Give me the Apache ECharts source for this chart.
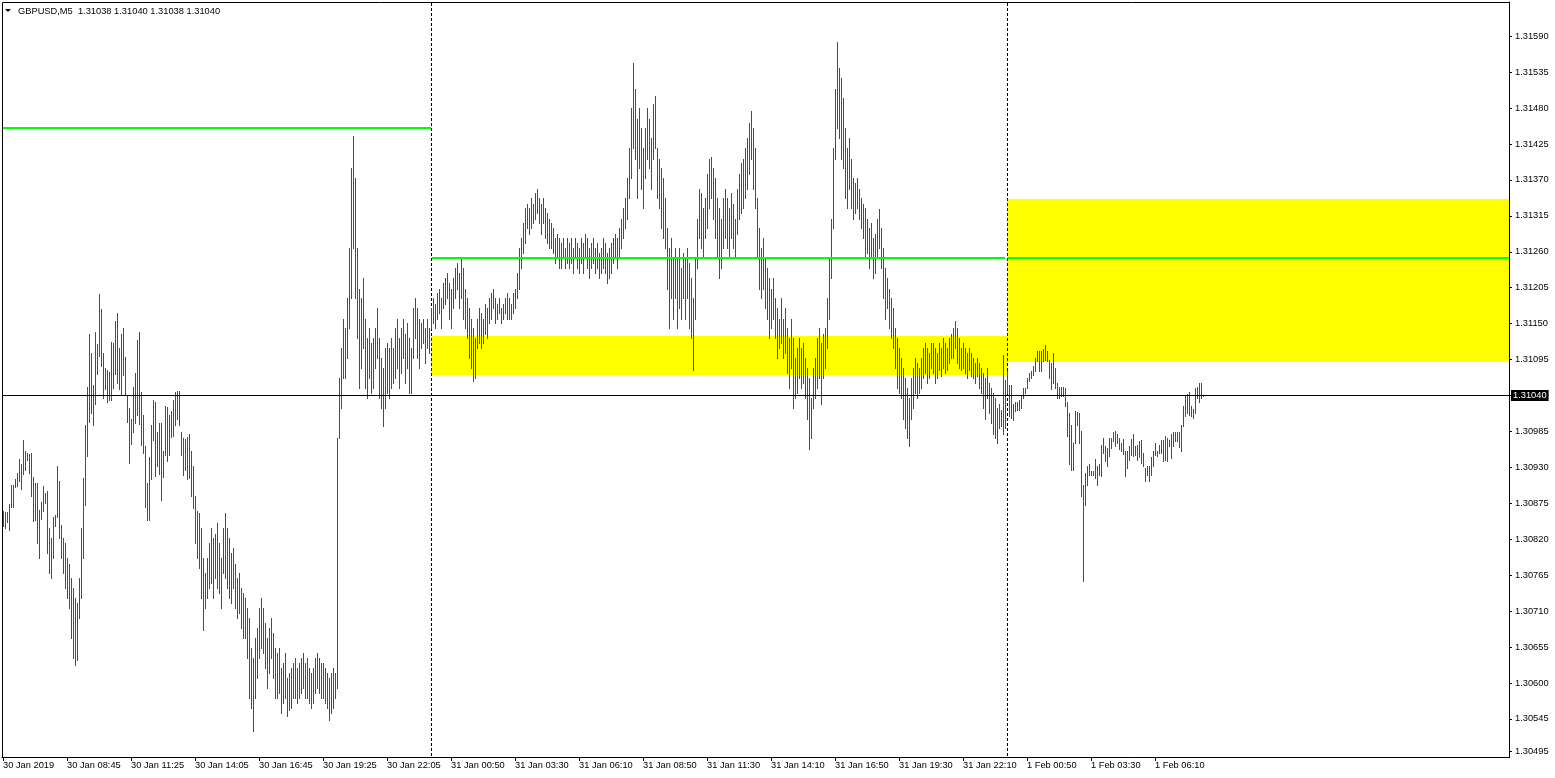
<!DOCTYPE html>
<html>
<head>
<meta charset="utf-8">
<script src="https://cdn.jsdelivr.net/npm/echarts@6/dist/echarts.min.js"></script>
<style>
html,body{margin:0;padding:0;background:#ffffff;overflow:hidden;}
#chart{width:1555px;height:778px;}
</style>
</head>
<body>
<div id="chart"></div>
<script>
// ---------------- DATA ----------------
const chartTitle = 'GBPUSD,M5  1.31038 1.31040 1.31038 1.31040';
const timeLabels = ['30 Jan 2019','30 Jan 08:45','30 Jan 11:25','30 Jan 14:05','30 Jan 16:45','30 Jan 19:25','30 Jan 22:05','31 Jan 00:50','31 Jan 03:30','31 Jan 06:10','31 Jan 08:50','31 Jan 11:30','31 Jan 14:10','31 Jan 16:50','31 Jan 19:30','31 Jan 22:10','1 Feb 00:50','1 Feb 03:30','1 Feb 06:10'];
const barsPerLabel = 32;
const viewBars = 753;
const priceTicks = [1.30495,1.30545,1.30600,1.30655,1.30710,1.30765,1.30820,1.30875,1.30930,1.30985,1.31040,1.31095,1.31150,1.31205,1.31260,1.31315,1.31370,1.31425,1.31480,1.31535,1.31590];
const axisMin = 1.304867;
const axisMax = 1.316423;
const bidPrice = 1.31040;
const daySeparatorBars = [214, 502];
// [fromBar, toBar, price]
const levelLines = [[0, 214, 1.31450], [214.5, 501, 1.31250], [502.5, 753, 1.31250]];
// [fromBar, toBar, topPrice, bottomPrice]
const zones = [[214, 502, 1.31130, 1.31070], [502, 753, 1.31340, 1.31090]];

// 30 Jan bars (high / low)
const day1High = [
1.30862,1.30861,1.30861,1.30873,1.30902,1.30903,1.30911,1.30920,1.30942,1.30934,
1.30971,1.30954,1.30951,1.30949,1.30952,1.30914,1.30905,1.30905,1.30864,1.30876,
1.30900,1.30890,1.30893,1.30836,1.30821,1.30854,1.30856,1.30931,1.30908,1.30841,
1.30821,1.30813,1.30790,1.30782,1.30760,1.30744,1.30729,1.30721,1.30760,1.30836,
1.30913,1.30994,1.31053,1.31134,1.31105,1.31055,1.31136,1.31118,1.31194,1.31171,
1.31104,1.31081,1.31079,1.31075,1.31121,1.31119,1.31153,1.31165,1.31112,1.31133,
1.31142,1.31098,1.31040,1.31020,1.31004,1.31053,1.31073,1.31124,1.31137,1.31044,
1.31010,1.30962,1.30905,1.30945,1.30994,1.31033,1.31030,1.30984,1.30997,1.30997,
1.30955,1.31023,1.31021,1.31009,1.31015,1.31032,1.31044,1.31046,1.31046,1.30984,
1.30974,1.30972,1.30975,1.30980,1.30954,1.30932,1.30885,1.30862,1.30859,1.30836,
1.30790,1.30767,1.30790,1.30813,1.30836,1.30821,1.30828,1.30844,1.30813,1.30790,
1.30836,1.30859,1.30836,1.30821,1.30798,1.30806,1.30782,1.30760,1.30767,1.30744,
1.30737,1.30729,1.30714,1.30698,1.30653,1.30637,1.30668,1.30683,1.30714,1.30729,
1.30714,1.30691,1.30668,1.30683,1.30698,1.30675,1.30653,1.30645,1.30653,1.30622,
1.30630,1.30645,1.30607,1.30614,1.30622,1.30630,1.30637,1.30622,1.30630,1.30637,
1.30645,1.30630,1.30637,1.30622,1.30614,1.30622,1.30637,1.30645,1.30637,1.30630,
1.30630,1.30622,1.30614,1.30607,1.30614,1.30622,1.30614,1.30974,1.31066,1.31112,
1.31157,1.31142,1.31188,1.31265,1.31387,1.31436,1.31372,1.31265,1.31203,1.31188,
1.31219,1.31157,1.31127,1.31142,1.31119,1.31127,1.31142,1.31173,1.31127,1.31096,
1.31081,1.31112,1.31119,1.31112,1.31127,1.31112,1.31142,1.31157,1.31127,1.31142,
1.31157,1.31134,1.31150,1.31127,1.31112,1.31173,1.31188,1.31173,1.31157,1.31150,
1.31157,1.31142,1.31157,1.31142];
const day1Low = [
1.30839,1.30836,1.30845,1.30833,1.30868,1.30868,1.30899,1.30900,1.30908,1.30896,
1.30919,1.30925,1.30940,1.30920,1.30885,1.30847,1.30848,1.30813,1.30790,1.30850,
1.30862,1.30874,1.30798,1.30767,1.30760,1.30790,1.30839,1.30854,1.30821,1.30790,
1.30767,1.30744,1.30729,1.30714,1.30668,1.30637,1.30626,1.30634,1.30698,1.30729,
1.30790,1.30871,1.30946,1.30998,1.31012,1.30994,1.31026,1.31072,1.31099,1.31084,
1.31036,1.31049,1.31030,1.31032,1.31032,1.31050,1.31072,1.31058,1.31049,1.31040,
1.31070,1.31040,1.30998,1.30936,1.30965,1.30984,1.30997,1.31010,1.30995,1.30963,
1.30951,1.30868,1.30848,1.30848,1.30911,1.30971,1.30916,1.30932,1.30919,1.30880,
1.30914,1.30948,1.30939,1.30948,1.30975,1.30978,1.30994,1.31004,1.30994,1.30948,
1.30917,1.30925,1.30911,1.30913,1.30885,1.30867,1.30813,1.30790,1.30775,1.30729,
1.30680,1.30714,1.30729,1.30744,1.30752,1.30729,1.30760,1.30744,1.30737,1.30714,
1.30767,1.30760,1.30744,1.30729,1.30721,1.30744,1.30714,1.30698,1.30706,1.30683,
1.30668,1.30668,1.30637,1.30576,1.30561,1.30525,1.30576,1.30607,1.30637,1.30653,
1.30645,1.30622,1.30591,1.30614,1.30637,1.30607,1.30576,1.30576,1.30584,1.30553,
1.30568,1.30576,1.30548,1.30558,1.30561,1.30576,1.30576,1.30568,1.30576,1.30584,
1.30591,1.30576,1.30576,1.30568,1.30561,1.30568,1.30584,1.30591,1.30584,1.30576,
1.30576,1.30568,1.30561,1.30542,1.30553,1.30561,1.30576,1.30591,1.30974,1.31020,
1.31066,1.31066,1.31096,1.31142,1.31188,1.31265,1.31188,1.31127,1.31050,1.31081,
1.31112,1.31050,1.31035,1.31066,1.31043,1.31050,1.31081,1.31096,1.31035,1.31020,
1.30992,1.31020,1.31043,1.31035,1.31050,1.31058,1.31066,1.31081,1.31050,1.31073,
1.31096,1.31058,1.31081,1.31043,1.31043,1.31096,1.31127,1.31096,1.31081,1.31112,
1.31119,1.31089,1.31112,1.31104];

// 31 Jan bars
const day2High = [
1.31173,1.31188,1.31180,1.31196,1.31203,1.31188,1.31211,1.31219,1.31226,1.31211,
1.31203,1.31219,1.31234,1.31242,1.31226,1.31249,1.31234,1.31203,1.31188,1.31173,
1.31157,1.31142,1.31127,1.31157,1.31173,1.31165,1.31157,1.31180,1.31173,1.31188,
1.31196,1.31203,1.31188,1.31180,1.31188,1.31173,1.31180,1.31188,1.31196,1.31188,
1.31180,1.31196,1.31203,1.31226,1.31265,1.31280,1.31303,1.31326,1.31333,1.31326,
1.31341,1.31333,1.31349,1.31356,1.31341,1.31333,1.31341,1.31326,1.31318,1.31310,
1.31303,1.31295,1.31280,1.31287,1.31280,1.31272,1.31280,1.31265,1.31280,1.31272,
1.31280,1.31265,1.31280,1.31272,1.31265,1.31280,1.31272,1.31287,1.31280,1.31265,
1.31272,1.31280,1.31265,1.31272,1.31257,1.31265,1.31280,1.31272,1.31257,1.31265,
1.31272,1.31280,1.31287,1.31280,1.31295,1.31310,1.31326,1.31341,1.31372,1.31418,
1.31479,1.31548,1.31509,1.31463,1.31479,1.31448,1.31418,1.31448,1.31479,1.31463,
1.31433,1.31486,1.31497,1.31418,1.31402,1.31387,1.31372,1.31341,1.31295,1.31265,
1.31280,1.31249,1.31265,1.31249,1.31265,1.31234,1.31257,1.31249,1.31265,1.31242,
1.31219,1.31188,1.31249,1.31310,1.31356,1.31349,1.31326,1.31341,1.31379,1.31402,
1.31405,1.31387,1.31372,1.31341,1.31326,1.31310,1.31341,1.31356,1.31341,1.31326,
1.31349,1.31333,1.31310,1.31356,1.31379,1.31395,1.31402,1.31418,1.31433,1.31456,
1.31474,1.31448,1.31418,1.31341,1.31295,1.31265,1.31280,1.31249,1.31234,1.31219,
1.31203,1.31219,1.31188,1.31173,1.31157,1.31188,1.31157,1.31173,1.31142,1.31127,
1.31157,1.31127,1.31096,1.31112,1.31127,1.31112,1.31119,1.31096,1.31081,1.31066,
1.31035,1.31081,1.31096,1.31127,1.31142,1.31119,1.31134,1.31142,1.31188,1.31249,
1.31310,1.31418,1.31509,1.31581,1.31540,1.31525,1.31494,1.31448,1.31418,1.31433,
1.31402,1.31372,1.31364,1.31372,1.31356,1.31341,1.31333,1.31326,1.31310,1.31295,
1.31303,1.31280,1.31287,1.31310,1.31324,1.31295,1.31265,1.31234,1.31219,1.31203,
1.31188,1.31173,1.31142,1.31127,1.31112,1.31096,1.31081,1.31066,1.31050,1.31035,
1.31066,1.31081,1.31096,1.31089,1.31081,1.31096,1.31112,1.31119,1.31112,1.31104,
1.31119,1.31119,1.31112,1.31104,1.31119,1.31112,1.31127,1.31119,1.31112,1.31127,
1.31134,1.31142,1.31154,1.31142,1.31127,1.31112,1.31119,1.31112,1.31104,1.31112,
1.31104,1.31096,1.31089,1.31096,1.31089,1.31081,1.31073,1.31066,1.31081,1.31058,
1.31050,1.31043,1.31035,1.31020,1.31027,1.31017,1.31102,1.31063];
const day2Low = [
1.31142,1.31150,1.31142,1.31157,1.31165,1.31142,1.31173,1.31180,1.31188,1.31157,
1.31142,1.31173,1.31188,1.31203,1.31173,1.31188,1.31157,1.31142,1.31127,1.31096,
1.31081,1.31061,1.31066,1.31112,1.31119,1.31112,1.31119,1.31134,1.31127,1.31150,
1.31157,1.31173,1.31150,1.31157,1.31165,1.31150,1.31157,1.31165,1.31157,1.31157,
1.31157,1.31165,1.31173,1.31188,1.31203,1.31234,1.31257,1.31272,1.31295,1.31287,
1.31295,1.31303,1.31310,1.31318,1.31303,1.31287,1.31303,1.31280,1.31272,1.31265,
1.31265,1.31257,1.31242,1.31249,1.31234,1.31234,1.31249,1.31234,1.31242,1.31234,
1.31242,1.31226,1.31249,1.31234,1.31226,1.31242,1.31226,1.31249,1.31234,1.31219,
1.31234,1.31242,1.31226,1.31234,1.31219,1.31226,1.31234,1.31226,1.31211,1.31219,
1.31226,1.31242,1.31249,1.31234,1.31249,1.31265,1.31280,1.31295,1.31310,1.31341,
1.31372,1.31418,1.31402,1.31341,1.31387,1.31356,1.31326,1.31372,1.31402,1.31387,
1.31356,1.31402,1.31418,1.31341,1.31326,1.31295,1.31280,1.31265,1.31203,1.31142,
1.31188,1.31157,1.31188,1.31142,1.31173,1.31157,1.31188,1.31157,1.31188,1.31142,
1.31127,1.31078,1.31157,1.31234,1.31280,1.31265,1.31249,1.31280,1.31295,1.31326,
1.31341,1.31310,1.31280,1.31249,1.31219,1.31234,1.31265,1.31280,1.31265,1.31249,
1.31280,1.31265,1.31249,1.31287,1.31310,1.31318,1.31326,1.31341,1.31356,1.31379,
1.31402,1.31356,1.31326,1.31249,1.31203,1.31188,1.31203,1.31173,1.31157,1.31127,
1.31142,1.31157,1.31127,1.31096,1.31112,1.31119,1.31096,1.31104,1.31073,1.31050,
1.31081,1.31020,1.31035,1.31043,1.31066,1.31050,1.31058,1.31035,1.31004,1.30957,
1.30974,1.31020,1.31035,1.31050,1.31066,1.31027,1.31066,1.31081,1.31112,1.31157,
1.31219,1.31295,1.31402,1.31448,1.31433,1.31402,1.31387,1.31341,1.31326,1.31356,
1.31326,1.31310,1.31318,1.31326,1.31310,1.31295,1.31280,1.31249,1.31257,1.31234,
1.31249,1.31219,1.31226,1.31249,1.31265,1.31234,1.31188,1.31157,1.31173,1.31142,
1.31127,1.31112,1.31081,1.31050,1.31043,1.31035,1.31004,1.30989,1.30974,1.30962,
1.31004,1.31020,1.31043,1.31035,1.31043,1.31050,1.31066,1.31073,1.31058,1.31066,
1.31081,1.31073,1.31058,1.31066,1.31078,1.31069,1.31081,1.31073,1.31078,1.31089,
1.31096,1.31096,1.31112,1.31089,1.31081,1.31078,1.31081,1.31073,1.31066,1.31078,
1.31069,1.31066,1.31058,1.31069,1.31050,1.31043,1.31020,1.31004,1.31035,1.31012,
1.30997,1.30981,1.30974,1.30966,1.30989,1.30992,1.30981,1.30989];

// 1 Feb bars
const day3High = [
1.31076,1.31056,1.31056,1.31027,1.31029,1.31029,1.31032,1.31040,1.31050,1.31050,
1.31066,1.31073,1.31076,1.31084,1.31096,1.31108,1.31108,1.31107,1.31110,1.31116,
1.31108,1.31093,1.31089,1.31105,1.31081,1.31058,1.31052,1.31052,1.31052,1.31050,
1.31029,1.31012,1.30994,1.30966,1.31015,1.31014,1.31012,1.30985,1.30902,1.30920,
1.30932,1.30934,1.30923,1.30923,1.30942,1.30931,1.30934,1.30963,1.30974,1.30962,
1.30959,1.30974,1.30974,1.30983,1.30985,1.30980,1.30974,1.30966,1.30972,1.30954,
1.30954,1.30962,1.30972,1.30980,1.30962,1.30963,1.30969,1.30971,1.30951,1.30928,
1.30932,1.30932,1.30945,1.30955,1.30966,1.30955,1.30963,1.30971,1.30971,1.30978,
1.30974,1.30971,1.30980,1.30983,1.30983,1.30983,1.30983,1.30994,1.31023,1.31038,
1.31041,1.31044,1.31023,1.31018,1.31050,1.31052,1.31058,1.31058,1.31040];
const day3Low = [
1.31043,1.31008,1.31005,1.31001,1.31015,1.31017,1.31017,1.31020,1.31035,1.31043,
1.31050,1.31061,1.31066,1.31070,1.31076,1.31092,1.31076,1.31076,1.31092,1.31093,
1.31092,1.31066,1.31049,1.31058,1.31050,1.31035,1.31035,1.31038,1.31038,1.31023,
1.30977,1.30934,1.30925,1.30925,1.30966,1.30994,1.30966,1.30885,1.30755,1.30871,
1.30902,1.30917,1.30917,1.30917,1.30913,1.30902,1.30917,1.30916,1.30951,1.30939,
1.30932,1.30946,1.30959,1.30969,1.30962,1.30966,1.30957,1.30955,1.30949,1.30916,
1.30928,1.30940,1.30948,1.30946,1.30948,1.30940,1.30945,1.30936,1.30932,1.30908,
1.30917,1.30908,1.30917,1.30931,1.30948,1.30946,1.30951,1.30951,1.30939,1.30940,
1.30939,1.30962,1.30943,1.30962,1.30969,1.30969,1.30960,1.30955,1.30992,1.31008,
1.31012,1.31009,1.31008,1.31005,1.31012,1.31035,1.31030,1.31035,1.31038];

// ---------------- CHART ----------------
const FONT = '"Liberation Sans", Arial, sans-serif';
const FONT_SIZE = 9.3;
const BAR_COLOR = '#ff0000';
const dashOn = 3, dashOff = 2;

const highs = day1High.concat(day2High, day3High);
const lows = day1Low.concat(day2Low, day3Low);
const barData = highs.map((h, i) => [i, h, lows[i]]);
const labelBars = timeLabels.map((t, k) => k * barsPerLabel);

function col(api, i) { return Math.floor(api.coord([i, axisMax])[0] + 0.01); }
function row(api, p) { return Math.floor(api.coord([0, p])[1] + 0.01); }

const chart = echarts.init(document.getElementById('chart'), null, {renderer: 'canvas'});

const option = {
  animation: false,
  backgroundColor: '#ffffff',
  grid: {left: 2, right: 46, top: 2, bottom: 21, containLabel: false},
  xAxis: {
    type: 'value', min: -0.5, max: viewBars,
    axisLine: {show: true, onZero: false, lineStyle: {color: '#000', width: 1}},
    axisTick: {show: true, inside: false, length: 4, lineStyle: {color: '#000'}, customValues: labelBars},
    axisLabel: {show: true, customValues: labelBars, align: 'left', margin: 4, color: '#000', fontSize: FONT_SIZE, fontFamily: FONT,
      formatter: v => timeLabels[Math.round(v / barsPerLabel)] || ''},
    splitLine: {show: false}
  },
  yAxis: {
    type: 'value', position: 'right', min: axisMin, max: axisMax,
    axisLine: {show: true, onZero: false, lineStyle: {color: '#000', width: 1}},
    axisTick: {show: true, inside: false, length: 3, lineStyle: {color: '#000'}, customValues: priceTicks},
    axisLabel: {show: true, customValues: priceTicks, margin: 6, color: '#000', fontSize: FONT_SIZE, fontFamily: FONT,
      formatter: v => v.toFixed(5)},
    splitLine: {show: false}
  },
  graphic: [
    {type: 'rect', silent: true, z: 100, shape: {x: 2.5, y: 2.5, width: 1507, height: 755},
      style: {fill: 'transparent', stroke: '#000', lineWidth: 1}},
    {type: 'polygon', silent: true, z: 100, shape: {points: [[5, 9], [11, 9], [8, 12]]}, style: {fill: '#000'}},
    {type: 'text', silent: true, z: 100, x: 18, y: 11,
      style: {text: chartTitle, fill: '#000', font: FONT_SIZE + 'px ' + FONT, verticalAlign: 'middle'}}
  ],
  series: [
    { // yellow zones
      type: 'custom', silent: true, z: 1, data: zones, encode: {x: [0, 1], y: [2, 3]},
      renderItem: function (params, api) {
        const x1 = col(api, api.value(0)), x2 = col(api, api.value(1));
        const y1 = row(api, api.value(2)), y2 = row(api, api.value(3));
        return {type: 'rect', shape: {x: x1, y: y1, width: x2 - x1, height: y2 - y1}, style: {fill: '#ffff00'}};
      }
    },
    { // day separators (dotted, inverted over yellow)
      type: 'custom', silent: true, z: 2, data: daySeparatorBars.map(b => [b, axisMin]), encode: {x: 0, y: 1},
      renderItem: function (params, api) {
        const cs = params.coordSys;
        const x = col(api, api.value(0));
        const zr = zones.map(z => ({x1: col(api, z[0]), x2: col(api, z[1]), y1: row(api, z[2]), y2: row(api, z[3])}));
        const children = [];
        const top = Math.round(cs.y) + 1, bottom = Math.round(cs.y + cs.height);
        for (let y = top; y < bottom; y++) {
          if ((y - top) % (dashOn + dashOff) >= dashOn) continue;
          const inside = zr.some(r => x >= r.x1 && x < r.x2 && y >= r.y1 && y < r.y2);
          children.push({type: 'rect', shape: {x: x, y: y, width: 1, height: 1}, style: {fill: inside ? '#0000ff' : '#000000'}});
        }
        return {type: 'group', children: children};
      }
    },
    { // price bars
      type: 'custom', silent: true, z: 3, data: barData, encode: {x: 0, y: [1, 2]},
      renderItem: function (params, api) {
        const i = api.value(0);
        const x = col(api, i);
        const y1 = row(api, api.value(1));
        const y2 = row(api, api.value(2));
        return {type: 'rect', shape: {x: x, y: y1, width: 1, height: Math.max(1, y2 - y1 + 1)}, style: {fill: BAR_COLOR}};
      }
    },
    { // green level lines
      type: 'custom', silent: true, z: 4, data: levelLines, encode: {x: [0, 1], y: 2},
      renderItem: function (params, api) {
        const x1 = col(api, api.value(0)), x2 = col(api, api.value(1));
        const yc = api.coord([api.value(0), api.value(2)])[1];
        return {type: 'rect', shape: {x: x1, y: Math.round(yc) - 1, width: x2 - x1, height: 2}, style: {fill: '#00ff00'}};
      }
    },
    { // bid line + label
      type: 'custom', silent: true, z: 10, clip: false, data: [[0, bidPrice]], encode: {x: 0, y: 1},
      renderItem: function (params, api) {
        const cs = params.coordSys;
        const y = row(api, api.value(1));
        return {type: 'group', children: [
          {type: 'rect', shape: {x: cs.x, y: y, width: cs.width, height: 1}, style: {fill: '#000'}},
          {type: 'text', x: cs.x + cs.width + 2, y: y + 0.5,
            style: {text: api.value(1).toFixed(5), fill: '#fff', backgroundColor: '#000', padding: [1, 2, 1, 2],
              font: FONT_SIZE + 'px ' + FONT, verticalAlign: 'middle', align: 'left'}}
        ]};
      }
    }
  ]
};
chart.setOption(option);
</script>
</body>
</html>
